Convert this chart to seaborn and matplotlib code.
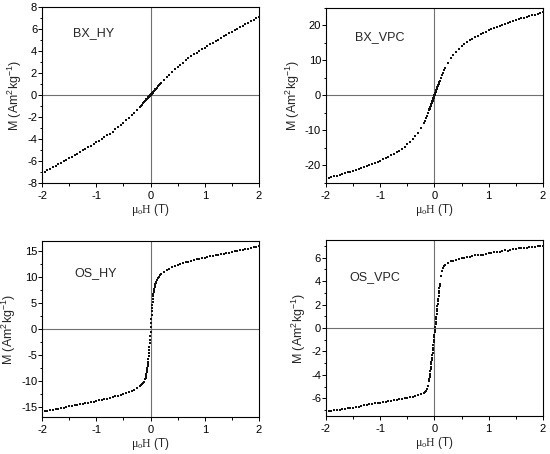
import matplotlib
matplotlib.use("Agg")
import matplotlib.pyplot as plt
from matplotlib.ticker import MultipleLocator
import pandas as pd
import seaborn as sns

# applied field, shared by all four samples (T)
field = [-2.00, -1.95, -1.90, -1.85, -1.80, -1.75, -1.70, -1.65, -1.60, -1.55,
         -1.50, -1.45, -1.40, -1.35, -1.30, -1.25, -1.20, -1.15, -1.10, -1.05,
         -1.00, -0.95, -0.90, -0.85, -0.80, -0.75, -0.70, -0.65, -0.60, -0.55,
         -0.50, -0.45, -0.40, -0.35, -0.30, -0.25,
         -0.20, -0.18, -0.16, -0.14, -0.12,
         -0.100, -0.095, -0.090, -0.085, -0.080, -0.075, -0.070, -0.065, -0.060, -0.055,
         -0.050, -0.045, -0.040, -0.035, -0.030, -0.025, -0.020, -0.015, -0.010, -0.005,
         0.000, 0.005, 0.010, 0.015, 0.020, 0.025, 0.030, 0.035, 0.040, 0.045,
         0.050, 0.055, 0.060, 0.065, 0.070, 0.075, 0.080, 0.085, 0.090, 0.095, 0.100,
         0.12, 0.14, 0.16, 0.18, 0.20,
         0.25, 0.30, 0.35, 0.40, 0.45, 0.50, 0.55, 0.60, 0.65, 0.70,
         0.75, 0.80, 0.85, 0.90, 0.95, 1.00, 1.05, 1.10, 1.15, 1.20,
         1.25, 1.30, 1.35, 1.40, 1.45, 1.50, 1.55, 1.60, 1.65, 1.70,
         1.75, 1.80, 1.85, 1.90, 1.95, 2.00]

# magnetisation (Am2/kg)
m_bx_hy = [-7.10, -6.97, -6.83, -6.70, -6.56, -6.43, -6.29, -6.16, -6.02, -5.89,
           -5.75, -5.61, -5.47, -5.33, -5.18, -5.04, -4.89, -4.75, -4.60, -4.45,
           -4.30, -4.15, -4.00, -3.84, -3.68, -3.51, -3.33, -3.14, -2.95, -2.75,
           -2.55, -2.32, -2.09, -1.85, -1.60, -1.35,
           -1.10, -0.99, -0.88, -0.77, -0.66,
           -0.55, -0.52, -0.50, -0.47, -0.44, -0.41, -0.39, -0.36, -0.33, -0.30,
           -0.28, -0.25, -0.22, -0.19, -0.17, -0.14, -0.11, -0.08, -0.06, -0.03,
           0.00, 0.03, 0.06, 0.08, 0.11, 0.14, 0.17, 0.19, 0.22, 0.25,
           0.28, 0.30, 0.33, 0.36, 0.39, 0.41, 0.44, 0.47, 0.50, 0.52, 0.55,
           0.66, 0.77, 0.88, 0.99, 1.10,
           1.35, 1.60, 1.85, 2.09, 2.32, 2.55, 2.75, 2.95, 3.14, 3.33,
           3.51, 3.68, 3.84, 4.00, 4.15, 4.30, 4.45, 4.60, 4.75, 4.89,
           5.04, 5.18, 5.33, 5.47, 5.61, 5.75, 5.89, 6.02, 6.16, 6.29,
           6.43, 6.56, 6.70, 6.83, 6.97, 7.10]

m_bx_vpc = [-23.7, -23.5, -23.3, -23.09, -22.88, -22.67, -22.45, -22.23, -22.0, -21.77,
            -21.53, -21.28, -21.02, -20.75, -20.48, -20.2, -19.9, -19.6, -19.28, -18.95,
            -18.6, -18.25, -17.9, -17.5, -17.1, -16.7, -16.25, -15.75, -15.2, -14.6,
            -14.0, -13.3, -12.5, -11.6, -10.6, -9.35,
            -7.85, -7.18, -6.48, -5.75, -4.98,
            -4.20, -4.00, -3.80, -3.59, -3.39, -3.18, -2.98, -2.77, -2.56, -2.35,
            -2.14, -1.93, -1.72, -1.50, -1.29, -1.08, -0.86, -0.65, -0.43, -0.22,
            0.00, 0.22, 0.43, 0.65, 0.86, 1.08, 1.29, 1.50, 1.72, 1.93,
            2.14, 2.35, 2.56, 2.77, 2.98, 3.18, 3.39, 3.59, 3.80, 4.00, 4.20,
            4.98, 5.75, 6.48, 7.18, 7.85,
            9.35, 10.6, 11.6, 12.5, 13.3, 14.0, 14.6, 15.2, 15.75, 16.25,
            16.7, 17.1, 17.5, 17.9, 18.25, 18.6, 18.95, 19.28, 19.6, 19.9,
            20.2, 20.48, 20.75, 21.02, 21.28, 21.53, 21.77, 22.0, 22.23, 22.45,
            22.67, 22.88, 23.09, 23.3, 23.5, 23.7]

m_os_hy = [-15.97, -15.87, -15.77, -15.67, -15.57, -15.47, -15.37, -15.27, -15.17, -15.07,
           -14.97, -14.87, -14.77, -14.67, -14.57, -14.47, -14.36, -14.25, -14.14, -14.03,
           -13.92, -13.8, -13.68, -13.56, -13.43, -13.3, -13.17, -13.03, -12.88, -12.72,
           -12.55, -12.35, -12.15, -11.95, -11.7, -11.4,
           -11.05, -10.85, -10.65, -10.45, -10.2,
           -9.75, -9.6, -9.45, -9.2, -9.0, -8.7, -8.4, -8.0, -7.6, -7.2,
           -6.8, -6.3, -5.8, -5.2, -4.6, -4.0, -3.4, -2.8, -2.1, -1.3,
           -0.5, 0.3, 1.1, 1.9, 2.7, 3.4, 4.0, 4.6, 5.2, 5.8,
           6.3, 6.8, 7.2, 7.5, 7.8, 8.05, 8.3, 8.5, 8.7, 8.9, 9.05,
           9.4, 9.8, 10.1, 10.35, 10.6,
           11.0, 11.35, 11.65, 11.9, 12.1, 12.3, 12.5, 12.68, 12.85, 13.0,
           13.15, 13.3, 13.43, 13.56, 13.68, 13.8, 13.92, 14.03, 14.14, 14.25,
           14.36, 14.47, 14.57, 14.67, 14.77, 14.87, 14.97, 15.07, 15.17, 15.3,
           15.42, 15.54, 15.66, 15.78, 15.89, 16.0]

m_os_vpc = [-7.2, -7.05, -7.1, -7.0, -6.98, -6.95, -6.9, -6.88, -6.85, -6.8,
            -6.78, -6.72, -6.7, -6.62, -6.58, -6.53, -6.5, -6.45, -6.42, -6.38,
            -6.35, -6.3, -6.27, -6.23, -6.2, -6.15, -6.11, -6.07, -6.03, -6.0,
            -5.95, -5.9, -5.86, -5.82, -5.7, -5.62,
            -5.52, -5.45, -5.35, -5.2, -4.95,
            -4.5, -4.35, -4.2, -4.05, -3.9, -3.7, -3.5, -3.3, -3.1, -2.9,
            -2.75, -2.55, -2.33, -2.11, -1.89, -1.67, -1.45, -1.23, -1.01, -0.79,
            -0.57, -0.35, -0.13, 0.09, 0.31, 0.53, 0.75, 0.97, 1.19, 1.41,
            1.63, 1.85, 2.07, 2.29, 2.51, 2.73, 2.95, 3.17, 3.38, 3.58, 3.78,
            4.45, 4.85, 5.08, 5.25, 5.38,
            5.56, 5.67, 5.75, 5.82, 5.87, 5.93, 5.98, 6.03, 6.08, 6.13,
            6.18, 6.24, 6.22, 6.18, 6.3, 6.38, 6.36, 6.46, 6.5, 6.45,
            6.58, 6.62, 6.6, 6.68, 6.72, 6.75, 6.78, 6.8, 6.82, 6.85,
            6.87, 6.9, 6.92, 6.95, 6.98, 7.0]

sample_names = ["BX_HY", "BX_VPC", "OS_HY", "OS_VPC"]
y_limits = [8, 25, 17, 7.5]
y_major = [2, 10, 5, 2]
y_minor = [1, 5, 2.5, 1]


def draw_panel(ax, moment, name, ylim, major, minor, label_xy):
    df = pd.DataFrame({"H": field, "M": moment})

    # zero lines behind the data
    ax.axhline(0, color="#707070", lw=0.8, zorder=1)
    ax.axvline(0, color="#707070", lw=0.8, zorder=1)

    sns.scatterplot(data=df, x="H", y="M", ax=ax, marker="s", s=3.4,
                    color="#111111", linewidth=0, zorder=3)

    ax.set_xlim(-2, 2)
    ax.set_ylim(-ylim, ylim)
    ax.xaxis.set_major_locator(MultipleLocator(1))
    ax.xaxis.set_minor_locator(MultipleLocator(0.5))
    ax.yaxis.set_major_locator(MultipleLocator(major))
    ax.yaxis.set_minor_locator(MultipleLocator(minor))

    ax.tick_params(which="both", direction="out", top=False, right=False,
                   width=0.7, labelsize=8, colors="black")
    ax.tick_params(which="major", length=3)
    ax.tick_params(which="minor", length=1.8)
    ax.tick_params(axis="x", which="major", pad=2.5)
    ax.tick_params(axis="y", which="major", pad=0.5)
    for sp in ax.spines.values():
        sp.set_linewidth(0.8)
        sp.set_color("black")

    ax.set_xlabel(r"$\mathrm{\mu_oH}$ (T)", fontsize=8.5, labelpad=1)
    ax.set_ylabel(r"M (Am$^\mathsf{2}$kg$^\mathsf{-1}$)", fontsize=9, labelpad=2)
    ax.text(label_xy[0], label_xy[1], name, transform=ax.transAxes,
            fontsize=9, va="center", ha="left")


def main():
    sns.set_theme(style="ticks")
    plt.rcParams["font.family"] = ["Liberation Sans", "DejaVu Sans"]
    plt.rcParams["mathtext.fontset"] = "custom"
    plt.rcParams["mathtext.rm"] = "Liberation Serif"
    plt.rcParams["mathtext.sf"] = "Liberation Sans"
    plt.rcParams["axes.unicode_minus"] = False

    fig = plt.figure(figsize=(5.5, 4.54), dpi=100)

    # axes boxes in figure fractions
    boxes = [[0.0764, 0.597, 0.3945, 0.3877],
             [0.5927, 0.597, 0.3945, 0.3855],
             [0.0764, 0.0815, 0.3945, 0.3877],
             [0.5927, 0.0837, 0.3945, 0.3877]]
    label_pos = [(0.143, 0.85), (0.134, 0.836), (0.147, 0.82), (0.11, 0.79)]
    moments = [m_bx_hy, m_bx_vpc, m_os_hy, m_os_vpc]

    for i in range(4):
        ax = fig.add_axes(boxes[i])
        draw_panel(ax, moments[i], sample_names[i], y_limits[i],
                   y_major[i], y_minor[i], label_pos[i])

    fig.savefig("out.png", dpi=100)


if __name__ == "__main__":
    main()
